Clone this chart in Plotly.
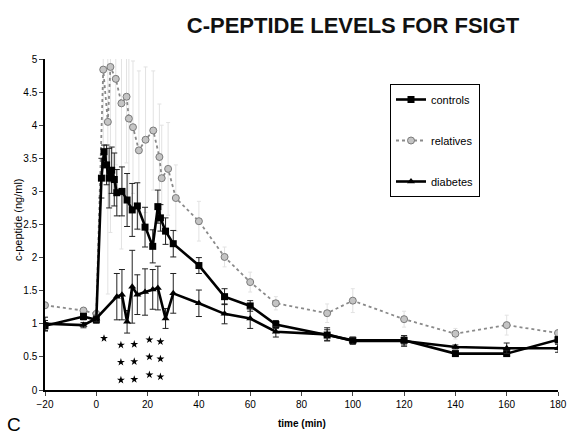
import plotly.graph_objects as go

# ---- data ----
ctrl_t = [-20, -5, 0, 2, 3, 4, 5, 6, 7, 8, 10, 12, 14, 16, 19, 22, 24, 25, 27, 30,
          40, 50, 60, 70, 90, 100, 120, 140, 160, 180]
ctrl_v = [0.97, 1.11, 1.06, 3.2, 3.6, 3.4, 3.2, 3.32, 3.18, 2.98, 3.0, 2.87, 2.72, 2.78, 2.46, 2.17, 2.77, 2.6, 2.4, 2.21,
          1.88, 1.41, 1.27, 0.99, 0.83, 0.75, 0.75, 0.55, 0.55, 0.76]
ctrl_e = [0.08, 0.05, 0.05, 0.3, 0.1, 0.3, 0.45, 0.35, 0.4, 0.35, 0.37, 0.4, 0.4, 0.35, 0.3, 0.25, 0.25, 0.2, 0.2, 0.2,
          0.12, 0.12, 0.08, 0.06, 0.08, 0.05, 0.07, 0.03, 0.03, 0.05]

rel_t = [-20, -5, 0, 2.7, 4.5, 5.5, 7.6, 9.8, 11.8, 12.7, 14.3, 16.6, 19.2, 22.2, 24.6, 25.5, 28, 31,
         40, 50, 60, 70, 90, 100, 120, 140, 160, 180]
rel_v = [1.28, 1.2, 1.15, 4.84, 4.05, 4.88, 4.7, 4.33, 4.43, 4.1, 3.97, 3.62, 3.78, 3.92, 3.52, 3.2, 3.34, 2.9,
         2.55, 2.01, 1.63, 1.31, 1.16, 1.35, 1.07, 0.85, 0.98, 0.86]
rel_e = [0.05, 0.05, 0.05, 1.2, 2.6, 2.5, 1.3, 2.2, 1.0, 1.3, 1.0, 1.2, 1.1, 0.9, 0.8, 0.8, 0.7, 0.5,
         0.3, 0.15, 0.15, 0.1, 0.14, 0.18, 0.12, 0.08, 0.15, 0.05]

diab_t = [-20, -5, 0, 8, 10, 12, 14, 16, 19, 22, 24, 27, 30,
          40, 50, 60, 70, 90, 100, 120, 140, 160, 180]
diab_v = [1.0, 0.98, 1.08, 1.41, 1.44, 1.03, 1.56, 1.44, 1.48, 1.52, 1.54, 1.08, 1.46,
          1.31, 1.15, 1.08, 0.88, 0.84, 0.74, 0.74, 0.65, 0.63, 0.63]
diab_e = [0.1, 0.04, 0.05, 0.35, 0.38, 0.17, 0.55, 0.3, 0.35, 0.3, 0.33, 0.15, 0.3,
          0.2, 0.15, 0.15, 0.08, 0.1, 0.05, 0.08, 0.03, 0.08, 0.06]

# significance stars
star_t = [3, 9.6, 9.6, 9.6, 14.8, 14.8, 14.8, 20.7, 20.7, 20.7, 25, 25, 25]
star_v = [0.78, 0.68, 0.42, 0.15, 0.69, 0.43, 0.16, 0.76, 0.5, 0.23, 0.73, 0.47, 0.2]

x_ticks = [-20, 0, 20, 40, 60, 80, 100, 120, 140, 160, 180]
y_ticks = [0, 0.5, 1, 1.5, 2, 2.5, 3, 3.5, 4, 4.5, 5]

FONT = "Liberation Sans, Arial, sans-serif"

fig = go.Figure()

fig.add_trace(go.Scatter(
    x=rel_t, y=rel_v, name="relatives", mode="lines+markers", legendgroup="b", legendrank=2,
    line=dict(color="#8a8a8a", width=1.8, dash="dot"),
    marker=dict(symbol="circle", size=7, color="#c4c4c4", line=dict(color="#7a7a7a", width=1)),
    error_y=dict(type="data", array=rel_e, color="#e2e2e2", thickness=1, width=2),
))
fig.add_trace(go.Scatter(
    x=ctrl_t, y=ctrl_v, name="controls", mode="lines+markers", legendgroup="a", legendrank=1,
    line=dict(color="black", width=2.6),
    marker=dict(symbol="square", size=7, color="black"),
    error_y=dict(type="data", array=ctrl_e, color="#222", thickness=1, width=3),
))
fig.add_trace(go.Scatter(
    x=diab_t, y=diab_v, name="diabetes", mode="lines+markers", legendgroup="c", legendrank=3,
    line=dict(color="black", width=2.6),
    marker=dict(symbol="triangle-up", size=7, color="black"),
    error_y=dict(type="data", array=diab_e, color="#222", thickness=1, width=3),
))
fig.add_trace(go.Scatter(
    x=star_t, y=star_v, mode="markers", showlegend=False,
    marker=dict(symbol="star", size=6, color="black"),
))

fig.update_layout(
    width=576, height=437,
    margin=dict(l=45, r=18, t=59, b=47),
    paper_bgcolor="white", plot_bgcolor="white",
    font=dict(family=FONT, color="black", size=10),
    title=dict(text="<b>C-PEPTIDE LEVELS FOR FSIGT</b>", x=353 / 576, xanchor="center",
               y=1 - 25 / 437, yanchor="middle", font=dict(size=22, family=FONT, color="#111")),
    legend=dict(x=(390 - 45) / 513, y=(390 - 84) / 331, xanchor="left", yanchor="top",
                bordercolor="black", borderwidth=1, bgcolor="white",
                font=dict(size=11, family=FONT), tracegroupgap=22,
                traceorder="grouped", itemwidth=30,
                entrywidth=95, entrywidthmode="pixels"),
    xaxis=dict(range=[-20, 180], tickvals=x_ticks, ticks="outside", ticklen=4, automargin=False,
               showline=True, linecolor="black", linewidth=1.5, showgrid=False, zeroline=False,
               tickfont=dict(size=10)),
    yaxis=dict(range=[0, 5], tickvals=y_ticks, ticks="outside", ticklen=4, automargin=False,
               showline=True, linecolor="black", linewidth=1.5, showgrid=False, zeroline=False,
               tickfont=dict(size=10)),
    showlegend=True,
)

fig.add_annotation(text="c-peptide (ng/ml)", xref="paper", yref="paper",
                   x=-45 / 513 + 18 / 513, y=(390 - 220) / 331, textangle=-90,
                   showarrow=False, font=dict(size=11, family=FONT), xanchor="center", yanchor="middle")
fig.add_annotation(text="<b>time (min)</b>", xref="paper", yref="paper",
                   x=(302 - 45) / 513, y=-(423 - 390) / 331, showarrow=False,
                   font=dict(size=10, family=FONT), xanchor="center", yanchor="middle")
fig.add_annotation(text="C", xref="paper", yref="paper",
                   x=-45 / 513 + 5 / 513, y=-(424 - 390) / 331, showarrow=False,
                   font=dict(size=19, family=FONT), xanchor="left", yanchor="middle")

fig.write_html("out.html", config={"displayModeBar": False},
               post_script="document.body.style.margin='0px';")
